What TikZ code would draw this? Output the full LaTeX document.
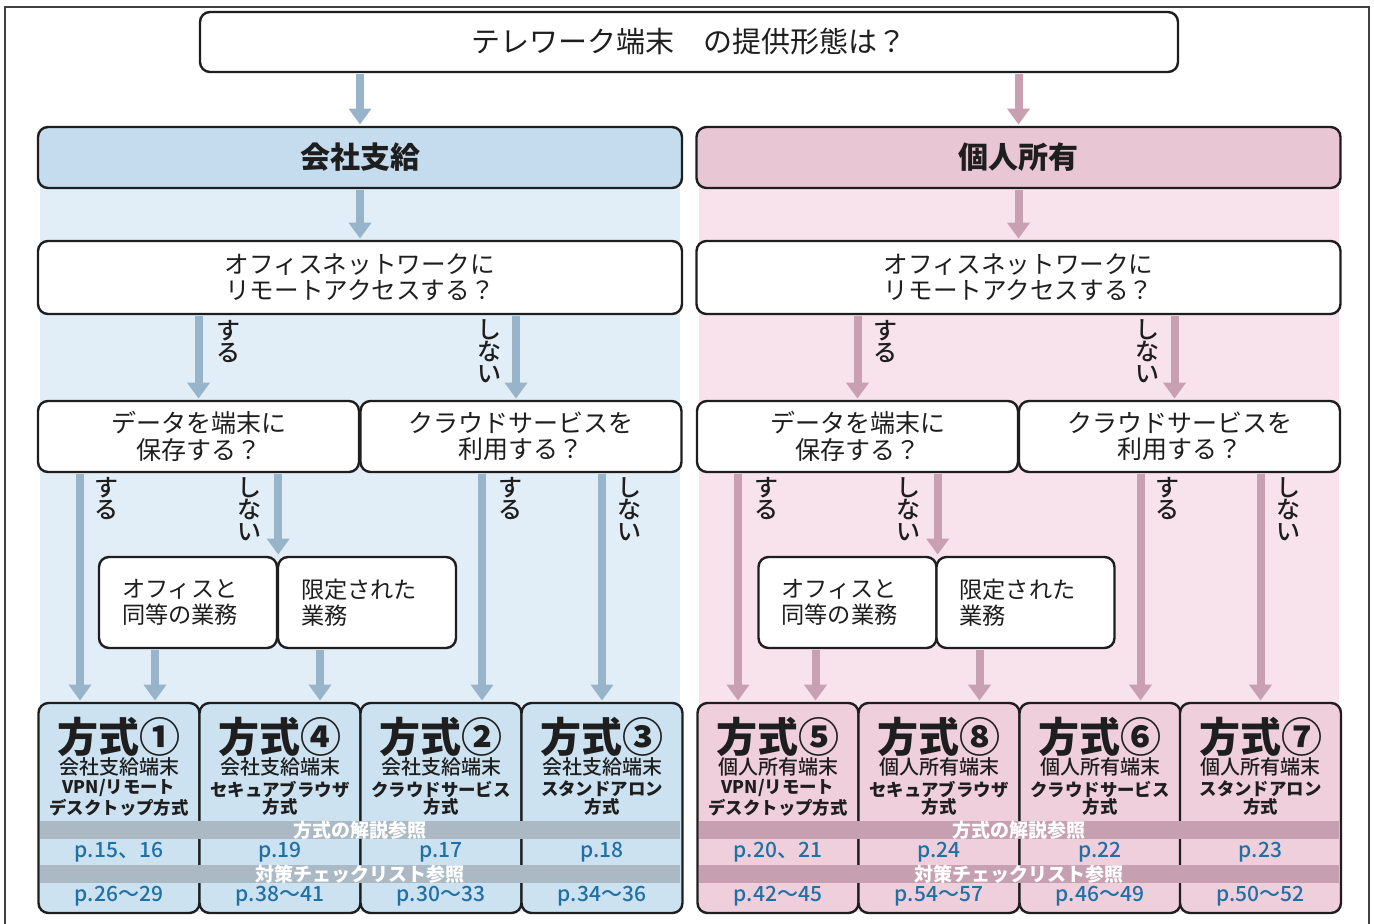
\documentclass[tikz,border=0pt]{standalone}
\usepackage{fontspec}
\setmainfont{Noto Sans CJK JP}
\newfontfamily\jpmed{Noto Sans CJK JP Medium}
\usetikzlibrary{arrows.meta,positioning}
\newdimen\pix \pix=0.5pt
\definecolor{barrcol}{RGB}{152,180,202}
\definecolor{parrcol}{RGB}{200,160,178}
\definecolor{bpanel}{RGB}{226,238,247}
\definecolor{ppanel}{RGB}{248,226,236}
\definecolor{bhead}{RGB}{196,220,237}
\definecolor{phead}{RGB}{233,198,211}
\definecolor{bcell}{RGB}{204,226,241}
\definecolor{pcell}{RGB}{240,207,220}
\definecolor{bband}{RGB}{170,185,196}
\definecolor{pband}{RGB}{198,160,176}
\definecolor{pagecol}{RGB}{30,112,165}
\definecolor{ink}{RGB}{30,30,30}
\tikzset{box/.style={draw=ink, line width=1.2pt, rounded corners=5pt, fill=white, inner sep=0pt, align=center, text=ink},
  topbox/.style={box, minimum width=978\pix, minimum height=60\pix, font=\fontsize{14.5}{16}\selectfont},
  headbox/.style={box, minimum width=644\pix, minimum height=61\pix, font=\bfseries\fontsize{15}{18}\selectfont},
  qbox/.style={box, minimum width=644\pix, minimum height=73\pix, font=\fontsize{12.3}{13.2}\selectfont},
  halfbox/.style={box, minimum width=321\pix, minimum height=71\pix, font=\fontsize{12.5}{13.2}\selectfont},
  workbox/.style={box, minimum width=178\pix, minimum height=91\pix, text width=132\pix, align=left, font=\fontsize{11.6}{13}\selectfont},
  cell/.style={box, minimum width=161\pix, minimum height=210\pix},
  band/.style={inner sep=0pt, minimum width=640\pix, minimum height=16\pix, text=white, font=\bfseries\fontsize{9.5}{10}\selectfont},
  mtitle/.style={inner sep=0pt, text=ink, font=\bfseries\fontsize{20.5}{22}\selectfont},
  msub/.style={inner sep=0pt, text=ink, font=\jpmed\fontsize{10}{11}\selectfont},
  mname/.style={inner sep=0pt, text=ink, align=center, font=\bfseries\fontsize{8.7}{8.6}\selectfont},
  page/.style={inner sep=0pt, text=pagecol, font=\jpmed\fontsize{10.5}{11}\selectfont},
  vlab/.style={inner sep=0pt, align=center, text=ink, font=\jpmed\fontsize{12}{11}\selectfont},
  barr/.style={line width=4pt, draw=barrcol, -{Triangle[width=11pt,length=8pt]}, shorten <=0.6pt, shorten >=0.6pt},
  parr/.style={barr, draw=parrcol}}
\begin{document}
\begin{tikzpicture}[x=0.5pt, y=-0.5pt]
  \useasboundingbox (0,0) rectangle (1374,924);
  \draw[line width=1pt, black!75] (5,950) -- (5,7) -- (1369,7) -- (1369,950);
  \fill[bpanel] (40,180) rectangle (680,912);
  \fill[ppanel] (699,180) rectangle (1339,912);

  \node[topbox] (top) at (689,42) {テレワーク端末　の提供形態は？};
  \node[headbox, fill=bhead] (hc) at (360,157.5) {会社支給};
  \node[headbox, fill=phead] (hp) at (1018.5,157.5) {個人所有};
  \node[qbox] (qc) at (360,277.5) {オフィスネットワークに\\リモートアクセスする？};
  \node[qbox] (qp) at (1018.5,277.5) {オフィスネットワークに\\リモートアクセスする？};
  \node[halfbox] (dc) at (198.5,436.5) {データを端末に\\保存する？};
  \node[halfbox] (cc) at (521,436.5) {クラウドサービスを\\利用する？};
  \node[halfbox] (dp) at (857.5,436.5) {データを端末に\\保存する？};
  \node[halfbox] (cp) at (1179.5,436.5) {クラウドサービスを\\利用する？};
  \node[workbox] (oc) at (188,602.5) {オフィスと\\同等の業務};
  \node[workbox] (lc) at (367,602.5) {限定された\\業務};
  \node[workbox] (op) at (847.5,602.5) {オフィスと\\同等の業務};
  \node[workbox] (lp) at (1025.5,602.5) {限定された\\業務};

  \node[cell, fill=bcell] (m1) at (119,808) {};
  \node[cell, fill=bcell] (m4) at (280,808) {};
  \node[cell, fill=bcell] (m2) at (441,808) {};
  \node[cell, fill=bcell] (m3) at (602,808) {};
  \node[cell, fill=pcell] (m5) at (778,808) {};
  \node[cell, fill=pcell] (m8) at (939,808) {};
  \node[cell, fill=pcell] (m6) at (1100,808) {};
  \node[cell, fill=pcell] (m7) at (1260.5,808) {};

  \node[band, fill=bband] (rc1) at (360,830) {方式の解説参照};
  \node[band, fill=bband] (rc2) at (360,874) {対策チェックリスト参照};
  \node[band, fill=pband] (rp1) at (1019,830) {方式の解説参照};
  \node[band, fill=pband] (rp2) at (1019,874) {対策チェックリスト参照};

  \node[mtitle] (t1) at (119,737) {方式①};
  \node[msub] (s1) at (119,767) {会社支給端末};
  \node[mname] (n1) at (119,798) {VPN/リモート\\デスクトップ方式};
  \node[page] (a1) at (119,852) {p.15、16};
  \node[page] (b1) at (119,896) {p.26〜29};
  \node[mtitle] (t4) at (280,737) {方式④};
  \node[msub] (s4) at (280,767) {会社支給端末};
  \node[mname] (n4) at (280,798) {セキュアブラウザ\\方式};
  \node[page] (a4) at (280,852) {p.19};
  \node[page] (b4) at (280,896) {p.38〜41};
  \node[mtitle] (t2) at (441,737) {方式②};
  \node[msub] (s2) at (441,767) {会社支給端末};
  \node[mname] (n2) at (441,798) {クラウドサービス\\方式};
  \node[page] (a2) at (441,852) {p.17};
  \node[page] (b2) at (441,896) {p.30〜33};
  \node[mtitle] (t3) at (602,737) {方式③};
  \node[msub] (s3) at (602,767) {会社支給端末};
  \node[mname] (n3) at (602,798) {スタンドアロン\\方式};
  \node[page] (a3) at (602,852) {p.18};
  \node[page] (b3) at (602,896) {p.34〜36};
  \node[mtitle] (t5) at (778,737) {方式⑤};
  \node[msub] (s5) at (778,767) {個人所有端末};
  \node[mname] (n5) at (778,798) {VPN/リモート\\デスクトップ方式};
  \node[page] (a5) at (778,852) {p.20、21};
  \node[page] (b5) at (778,896) {p.42〜45};
  \node[mtitle] (t8) at (939,737) {方式⑧};
  \node[msub] (s8) at (939,767) {個人所有端末};
  \node[mname] (n8) at (939,798) {セキュアブラウザ\\方式};
  \node[page] (a8) at (939,852) {p.24};
  \node[page] (b8) at (939,896) {p.54〜57};
  \node[mtitle] (t6) at (1100,737) {方式⑥};
  \node[msub] (s6) at (1100,767) {個人所有端末};
  \node[mname] (n6) at (1100,798) {クラウドサービス\\方式};
  \node[page] (a6) at (1100,852) {p.22};
  \node[page] (b6) at (1100,896) {p.46〜49};
  \node[mtitle] (t7) at (1260.5,737) {方式⑦};
  \node[msub] (s7) at (1260.5,767) {個人所有端末};
  \node[mname] (n7) at (1260.5,798) {スタンドアロン\\方式};
  \node[page] (a7) at (1260.5,852) {p.23};
  \node[page] (b7) at (1260.5,896) {p.50〜52};

  \draw[barr] (top.south -| hc.north) -- (hc.north);
  \draw[barr] (hc.south) -- (qc.north);
  \draw[barr] (qc.south -| dc.north) -- (dc.north);
  \draw[barr] ([xshift=-5\pix]qc.south -| cc.north) -- ([xshift=-5\pix]cc.north);
  \draw[barr] ([xshift=-39\pix]dc.south -| m1.north) -- ([xshift=-39\pix]m1.north);
  \draw[barr] (dc.south -| oc.north east) -- (oc.north east);
  \draw[barr] ([xshift=-33\pix]oc.south) -- ([xshift=-33\pix]oc.south |- m1.north);
  \draw[barr] ([xshift=-47\pix]lc.south) -- ([xshift=-47\pix]lc.south |- m4.north);
  \draw[barr] ([xshift=-39\pix]cc.south) -- ([xshift=-39\pix]cc.south |- m2.north);
  \draw[barr] (cc.south -| m3.north) -- (m3.north);

  \draw[parr] (top.south -| hp.north) -- (hp.north);
  \draw[parr] (hp.south) -- (qp.north);
  \draw[parr] (qp.south -| dp.north) -- (dp.north);
  \draw[parr] ([xshift=-5\pix]qp.south -| cp.north) -- ([xshift=-5\pix]cp.north);
  \draw[parr] ([xshift=-40\pix]dp.south -| m5.north) -- ([xshift=-40\pix]m5.north);
  \draw[parr] (dp.south -| op.north east) -- (op.north east);
  \draw[parr] ([xshift=-32\pix]op.south) -- ([xshift=-32\pix]op.south |- m5.north);
  \draw[parr] ([xshift=-46\pix]lp.south) -- ([xshift=-46\pix]lp.south |- m8.north);
  \draw[parr] ([xshift=-39\pix]cp.south) -- ([xshift=-39\pix]cp.south |- m6.north);
  \draw[parr] (cp.south -| m7.north) -- (m7.north);

  \node[vlab] (yc1) at (228,342) {す\\る};
  \node[vlab] (nc1) at (489,351) {し\\な\\い};
  \node[vlab] (yc2) at (106,499) {す\\る};
  \node[vlab] (nc2) at (249,509) {し\\な\\い};
  \node[vlab] (yc3) at (510,499) {す\\る};
  \node[vlab] (nc3) at (629,509) {し\\な\\い};
  \node[vlab] (yp1) at (885,342) {す\\る};
  \node[vlab] (np1) at (1147,351) {し\\な\\い};
  \node[vlab] (yp2) at (766,499) {す\\る};
  \node[vlab] (np2) at (908,509) {し\\な\\い};
  \node[vlab] (yp3) at (1167,499) {す\\る};
  \node[vlab] (np3) at (1288,509) {し\\な\\い};
\end{tikzpicture}
\end{document}
